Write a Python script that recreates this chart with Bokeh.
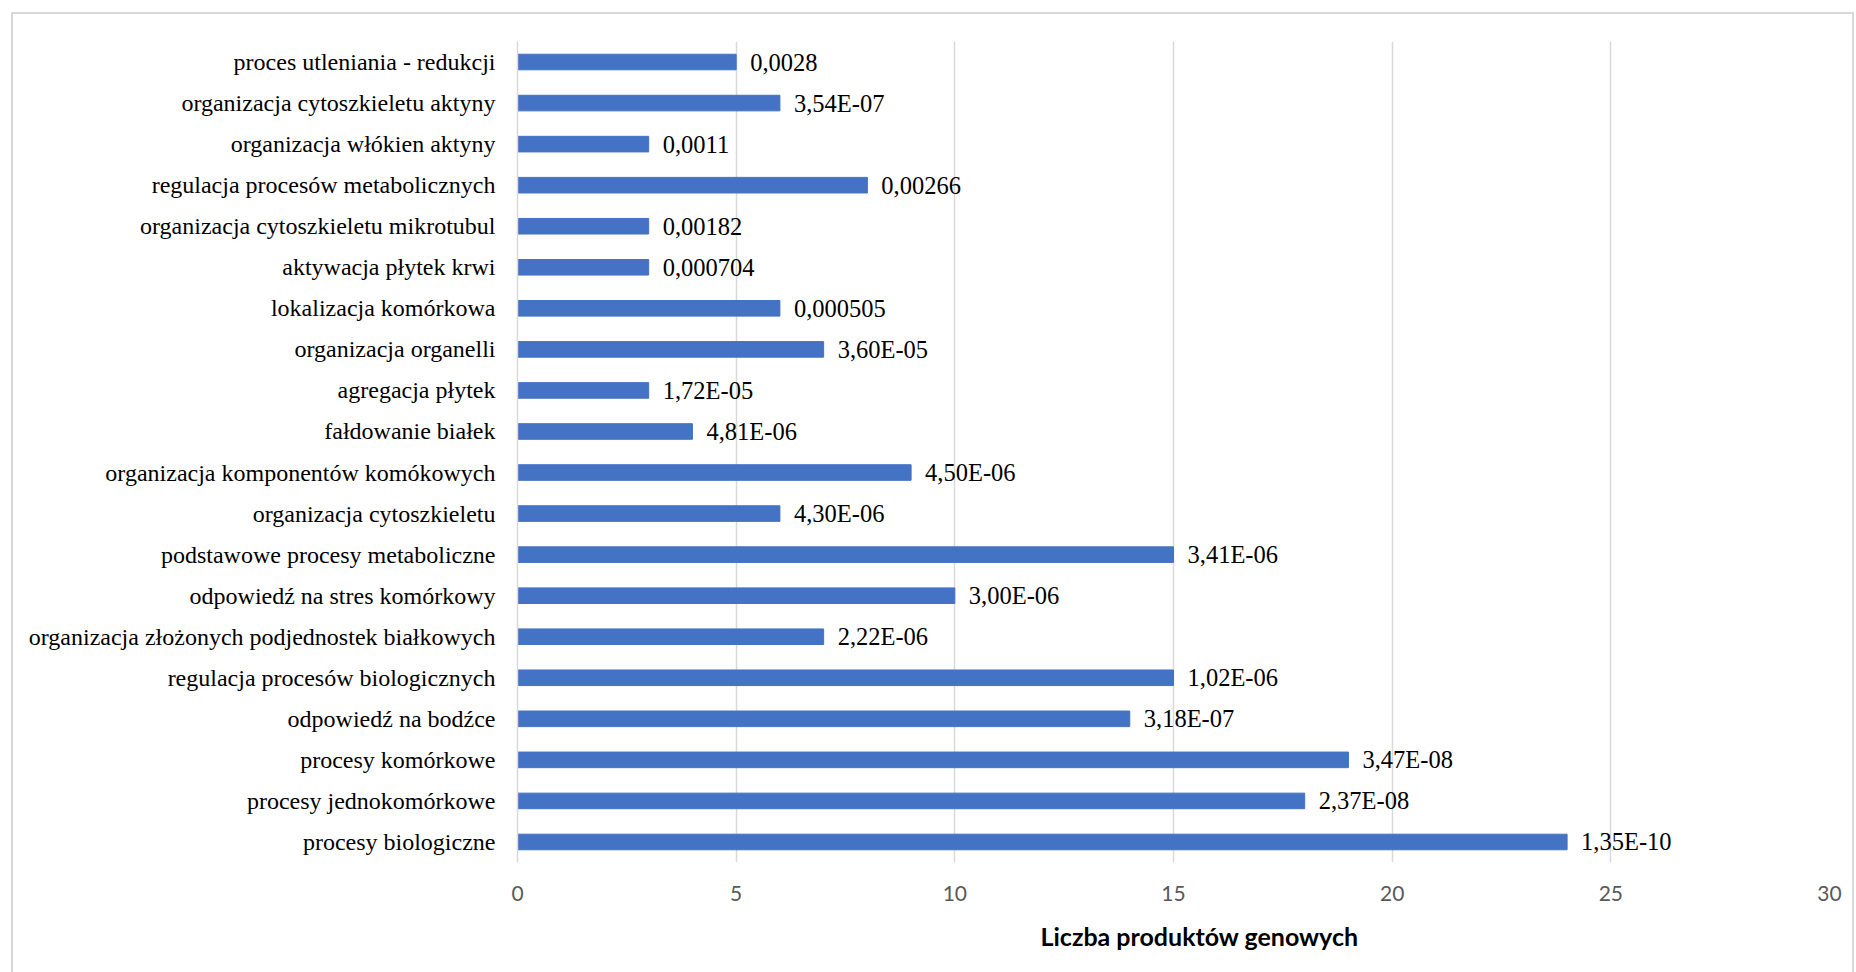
from bokeh.plotting import figure
from bokeh.models import ColumnDataSource, FactorRange, Range1d, FixedTicker, LabelSet, Title
from bokeh.embed import file_html
from bokeh.resources import INLINE
from bokeh.core.properties import value

# categories listed top to bottom as in the chart
categories = [
    "proces utleniania - redukcji",
    "organizacja cytoszkieletu aktyny",
    "organizacja włókien aktyny",
    "regulacja procesów metabolicznych",
    "organizacja cytoszkieletu mikrotubul",
    "aktywacja płytek krwi",
    "lokalizacja komórkowa",
    "organizacja organelli",
    "agregacja płytek",
    "fałdowanie białek",
    "organizacja komponentów komókowych",
    "organizacja cytoszkieletu",
    "podstawowe procesy metaboliczne",
    "odpowiedź na stres komórkowy",
    "organizacja złożonych podjednostek białkowych",
    "regulacja procesów biologicznych",
    "odpowiedź na bodźce",
    "procesy komórkowe",
    "procesy jednokomórkowe",
    "procesy biologiczne",
]
counts = [5, 6, 3, 8, 3, 3, 6, 7, 3, 4, 9, 6, 15, 10, 7, 15, 14, 19, 18, 24]
pvalues = [
    "0,0028", "3,54E-07", "0,0011", "0,00266", "0,00182", "0,000704",
    "0,000505", "3,60E-05", "1,72E-05", "4,81E-06", "4,50E-06", "4,30E-06",
    "3,41E-06", "3,00E-06", "2,22E-06", "1,02E-06", "3,18E-07", "3,47E-08",
    "2,37E-08", "1,35E-10",
]
x_ticks = [0, 5, 10, 15, 20, 25, 30]
x_title = "Liczba produktów genowych"

factors = categories[::-1]
src = ColumnDataSource(dict(cat=categories, count=counts, label=pvalues))

p = figure(
    width=1856, height=972,
    y_range=FactorRange(factors=factors),
    x_range=Range1d(x_ticks[0], x_ticks[-1]),
    output_backend="svg", toolbar_location=None,
    min_border_left=517, min_border_right=27, min_border_top=41, min_border_bottom=110,
)
p.hbar(y="cat", right="count", left=0, height=0.38, source=src,
       fill_color="#4472C4", line_color="#4472C4")

labels = LabelSet(x="count", y="cat", text="label", source=src, x_offset=14,
                  text_baseline="middle", text_align="left",
                  text_font=value("Liberation Serif"), text_font_size="24.5px",
                  text_color="#000000")
p.add_layout(labels)

p.outline_line_color = None
p.border_fill_color = None
p.background_fill_color = "#ffffff"

p.ygrid.grid_line_color = None
p.xgrid.grid_line_color = "#d9d9d9"
p.xgrid.grid_line_width = 1.5
p.xaxis.ticker = FixedTicker(ticks=x_ticks)

p.xaxis.axis_line_color = None
p.xaxis.major_tick_line_color = None
p.xaxis.minor_tick_line_color = None
p.xaxis.major_label_text_font = "Lato"
p.xaxis.major_label_text_font_size = "21px"
p.xaxis.major_label_text_color = "#595959"
p.xaxis.major_label_standoff = 17

p.yaxis.axis_line_color = "#d9d9d9"
p.yaxis.axis_line_width = 1.5
p.yaxis.major_tick_line_color = None
p.yaxis.minor_tick_line_color = None
p.yaxis.major_label_text_font = "Liberation Serif"
p.yaxis.major_label_text_font_size = "24px"
p.yaxis.major_label_text_color = "#000000"
p.yaxis.major_label_standoff = 16

t = Title(text=x_title, align="left", text_font="Lato", text_font_style="bold",
          text_font_size="25px", text_color="#000000", offset=523, standoff=31)
p.add_layout(t, "below")

line = "linear-gradient(#d9d9d9,#d9d9d9)"
p.styles = {
    "background": f"{line} 11px 12px / 1843px 2px no-repeat, "
                  f"{line} 11px 12px / 2px 960px no-repeat, "
                  f"{line} 1852px 12px / 2px 960px no-repeat, #ffffff"
}

open("out.html", "w").write(file_html(p, INLINE))
